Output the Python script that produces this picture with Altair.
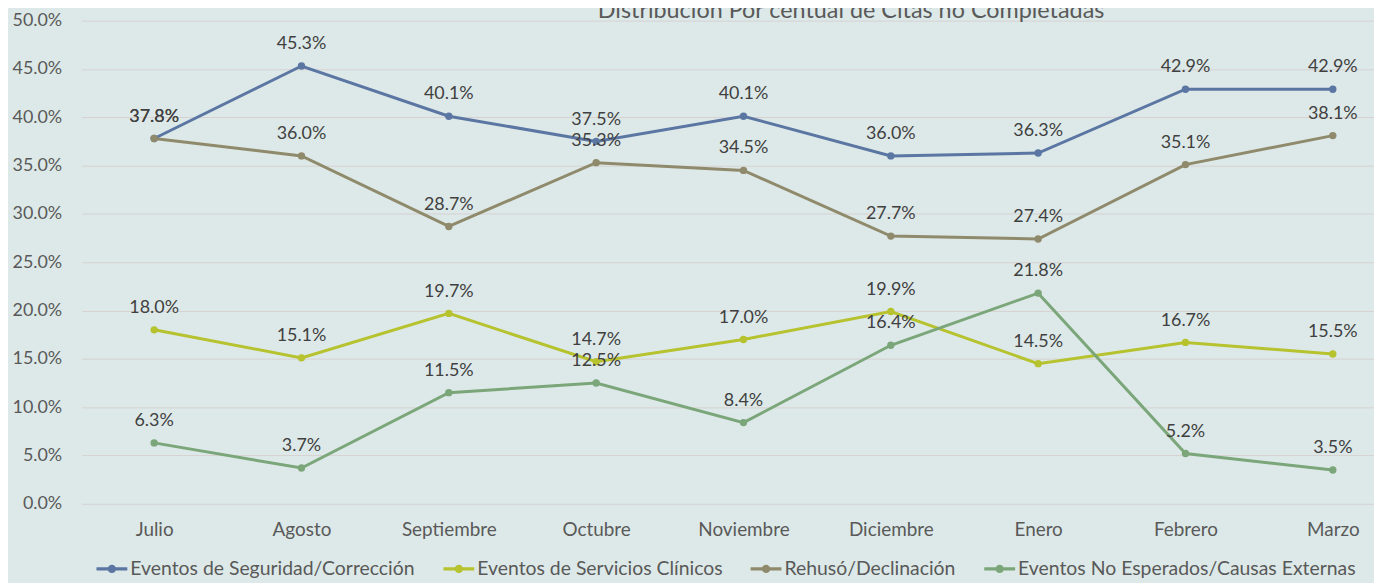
import altair as alt
import pandas as pd

months = ["Julio", "Agosto", "Septiembre", "Octubre", "Noviembre", "Diciembre", "Enero", "Febrero", "Marzo"]
series_names = [
    "Eventos de Seguridad/Corrección",
    "Eventos de Servicios Clínicos",
    "Rehusó/Declinación",
    "Eventos No Esperados/Causas Externas",
]
seguridad = [37.8, 45.3, 40.1, 37.5, 40.1, 36.0, 36.3, 42.9, 42.9]
clinicos = [18.0, 15.1, 19.7, 14.7, 17.0, 19.9, 14.5, 16.7, 15.5]
rehuso = [37.8, 36.0, 28.7, 35.3, 34.5, 27.7, 27.4, 35.1, 38.1]
no_esperados = [6.3, 3.7, 11.5, 12.5, 8.4, 16.4, 21.8, 5.2, 3.5]
colors = ["#5b76a2", "#b6c22e", "#8f8a6b", "#7ba67a"]
y_ticks = [0, 5, 10, 15, 20, 25, 30, 35, 40, 45, 50]

rows = []
for name, vals in zip(series_names, [seguridad, clinicos, rehuso, no_esperados]):
    for m, v in zip(months, vals):
        rows.append({"Mes": m, "Serie": name, "Valor": v / 100.0})
df = pd.DataFrame(rows)

FONT = "Lato"

x_enc = alt.X(
    "Mes:N",
    sort=months,
    scale=alt.Scale(type="point", padding=0.386, align=0.638),
    axis=alt.Axis(
        title=None, labelAngle=0, ticks=False, domain=False, grid=False,
        labelFont=FONT, labelFontSize=19, labelColor="#595959", labelPadding=17,
    ),
)
y_enc = alt.Y(
    "Valor:Q",
    scale=alt.Scale(domain=[0, 0.5], nice=False),
    axis=alt.Axis(
        title=None, format=".1%", values=[t / 100 for t in y_ticks], ticks=False, domain=False,
        grid=True, gridColor="#d7d1d1", gridWidth=1,
        labelFont=FONT, labelFontSize=18, labelColor="#595959", labelPadding=20,
    ),
)
color_scale = alt.Scale(domain=series_names, range=colors)

legend_symbol = "M-1,-0.1H1V0.1H-1Z M-0.27,0 A0.27,0.27 0 1,1 0.27,0 A0.27,0.27 0 1,1 -0.27,0Z"
legend = alt.Legend(
    title=None, orient="none", direction="horizontal",
    legendX=15, legendY=536,
    symbolType=legend_symbol, symbolSize=961, symbolStrokeWidth=0,
    symbolOpacity=1,
    labelFont=FONT, labelFontSize=19.5, labelColor="#595959", labelOffset=3,
    columnPadding=28, labelLimit=500,
)
color_enc = alt.Color("Serie:N", scale=color_scale, sort=series_names, legend=legend)

base = alt.Chart(df)

lines = base.mark_line(strokeWidth=3).encode(
    x=x_enc, y=y_enc, color=color_enc, detail="Serie:N",
)

points = base.mark_point(filled=True, size=55, opacity=1).encode(
    x=x_enc, y=y_enc, color=color_enc,
)

labels = base.mark_text(dy=-22, font=FONT, fontSize=18, color="#404040", baseline="middle").encode(
    x=x_enc, y=y_enc,
    text=alt.Text("Valor:Q", format=".1%"),
)

chart = (
    alt.layer(lines, points, labels)
    .properties(
        width=1300,
        height=486,
        padding={"left": 74, "top": 11, "right": 0, "bottom": 78},
        autosize=alt.AutoSizeParams(type="none"),
        background="#dde9e8",
        title=alt.TitleParams(
            text="Distribución Por centual de Citas no Completadas",
            font=FONT, fontSize=23.5, fontWeight="normal", color="#595959",
            anchor="middle", frame="group", dx=124, offset=-30, baseline="alphabetic",
        ),
    )
    .configure_view(stroke=None)
)

chart.save("out.html", embed_options={"renderer": "svg", "actions": False})
